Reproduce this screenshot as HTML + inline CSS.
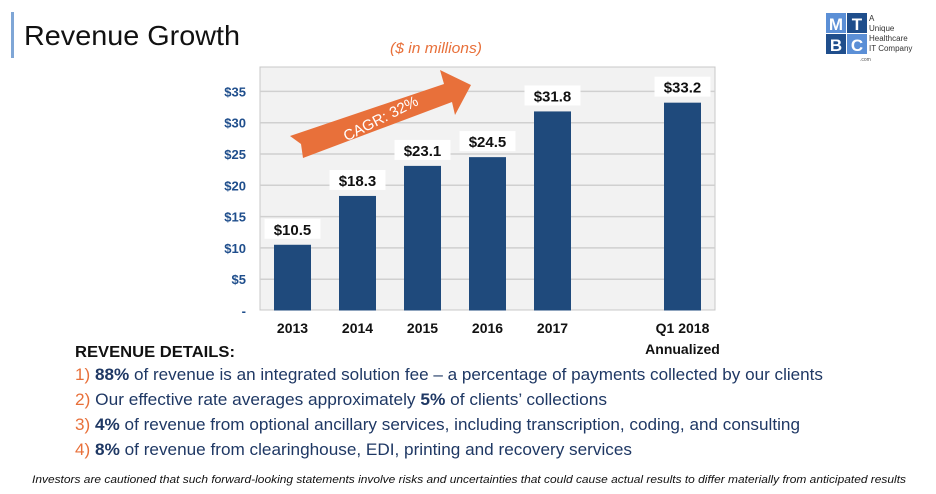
<!DOCTYPE html>
<html><head><meta charset="utf-8"><style>
html,body{margin:0;padding:0;background:#fff;}
svg{display:block;font-family:"Liberation Sans",sans-serif;}
</style></head><body>
<svg id="chart" width="936" height="494" viewBox="0 0 936 494">
<rect x="11" y="12" width="3" height="46" fill="#7fa6d6"/>
<text x="24" y="45" font-size="28" fill="#111" textLength="216" lengthAdjust="spacingAndGlyphs">Revenue Growth</text>
<text x="390" y="53" font-size="15" font-style="italic" fill="#e8703a" textLength="92" lengthAdjust="spacingAndGlyphs">($ in millions)</text>
<g>
<rect x="826" y="13" width="20" height="20" fill="#5b8fd6"/><text x="836" y="30" font-size="17" font-weight="bold" fill="#fff" text-anchor="middle">M</text>
<rect x="847" y="13" width="20" height="20" fill="#1f4e8c"/><text x="857" y="30" font-size="17" font-weight="bold" fill="#fff" text-anchor="middle">T</text>
<rect x="826" y="34" width="20" height="20" fill="#1f4e8c"/><text x="836" y="51" font-size="17" font-weight="bold" fill="#fff" text-anchor="middle">B</text>
<rect x="847" y="34" width="20" height="20" fill="#5b8fd6"/><text x="857" y="51" font-size="17" font-weight="bold" fill="#fff" text-anchor="middle">C</text>
<text x="869" y="21" font-size="8" fill="#333">A</text>
<text x="869" y="31" font-size="8" fill="#333">Unique</text>
<text x="869" y="41" font-size="8" fill="#333">Healthcare</text>
<text x="869" y="51" font-size="8" fill="#333">IT Company</text>
<text x="860" y="61" font-size="5" fill="#555">.com</text>
</g>
<rect x="260" y="67" width="455" height="243" fill="#f2f2f2" stroke="#c8c8c8"/>
<g id="grid"></g><g id="bars"></g><g id="labels"></g>
<g>
<polygon points="290,136 444,84 440,70 471,85 455,115 452,102 303,158 301,144" fill="#e8703a"/>
<text x="0" y="0" font-size="15" fill="#fff" text-anchor="middle" transform="translate(383,123) rotate(-27)">CAGR: 32%</text>
</g>
<text x="75" y="357" font-size="16" font-weight="bold" fill="#111" textLength="160" lengthAdjust="spacingAndGlyphs">REVENUE DETAILS:</text>
<g font-size="16.5" fill="#1f3864">
<text x="75" y="380" textLength="748" lengthAdjust="spacingAndGlyphs"><tspan fill="#e8703a">1)</tspan> <tspan font-weight="bold">88%</tspan> of revenue is an integrated solution fee – a percentage of payments collected by our clients</text>
<text x="75" y="405" textLength="532" lengthAdjust="spacingAndGlyphs"><tspan fill="#e8703a">2)</tspan> Our effective rate averages approximately <tspan font-weight="bold">5%</tspan> of clients’ collections</text>
<text x="75" y="430" textLength="725" lengthAdjust="spacingAndGlyphs"><tspan fill="#e8703a">3)</tspan> <tspan font-weight="bold">4%</tspan> of revenue from optional ancillary services, including transcription, coding, and consulting</text>
<text x="75" y="455" textLength="557" lengthAdjust="spacingAndGlyphs"><tspan fill="#e8703a">4)</tspan> <tspan font-weight="bold">8%</tspan> of revenue from clearinghouse, EDI, printing and recovery services</text>
</g>
<text x="32" y="483" font-size="11" font-style="italic" fill="#111" textLength="874" lengthAdjust="spacingAndGlyphs">Investors are cautioned that such forward-looking statements involve risks and uncertainties that could cause actual results to differ materially from anticipated results</text>
</svg>
<script>
const categories = ["2013","2014","2015","2016","2017","","Q1 2018"];
const values = [10.5,18.3,23.1,24.5,31.8,null,33.2];
const valueLabels = ["$10.5","$18.3","$23.1","$24.5","$31.8","","$33.2"];
const yTicks = [0,5,10,15,20,25,30,35];
const yTickLabels = ["-","$5","$10","$15","$20","$25","$30","$35"];
const NS="http://www.w3.org/2000/svg";
const x0=260,x1=715,yZero=310.5,pxPerUnit=6.26,slot=(x1-x0)/categories.length,bw=37;
const xc=i=>x0+(i+0.5)*slot, y=v=>yZero-v*pxPerUnit;
function mk(tag,attrs,parent){const e=document.createElementNS(NS,tag);for(const k in attrs)e.setAttribute(k,attrs[k]);parent.appendChild(e);return e;}
const grid=document.getElementById('grid'),bars=document.getElementById('bars'),labels=document.getElementById('labels');
yTicks.forEach((t,i)=>{
  if(t>0){const l=mk('line',{x1:x0,x2:x1,y1:y(t),y2:y(t),stroke:'#d0d0d0','stroke-width':1.5},grid);
  
  }
  const tx=mk('text',{x:246,y:y(t)+5,'font-size':13,'font-weight':'bold',fill:'#1f4e8c','text-anchor':'end'},grid);
  tx.textContent=yTickLabels[i];
  
  
});
categories.forEach((c,i)=>{
  if(values[i]!=null){
    const r=mk('rect',{x:xc(i)-bw/2,y:y(values[i]),width:bw,height:values[i]*pxPerUnit,fill:'#1f4a7c'},bars);
    
    
    const bg=mk('rect',{x:xc(i)-28,y:y(values[i])-26,width:56,height:20,fill:'#fff'},labels);
    
    
    const vt=mk('text',{x:xc(i),y:y(values[i])-10,'font-size':15,'font-weight':'bold',fill:'#111','text-anchor':'middle'},labels);
    vt.textContent=valueLabels[i];
    
    
  }
  if(c){
    const ct=mk('text',{x:xc(i),y:333,'font-size':14,'font-weight':'bold',fill:'#111','text-anchor':'middle'},labels);
    ct.textContent=c;
    
    
  }
});
const an=mk('text',{x:xc(6),y:354,'font-size':14,'font-weight':'bold',fill:'#111','text-anchor':'middle'},labels);
an.textContent='Annualized';


</script>
</body></html>
